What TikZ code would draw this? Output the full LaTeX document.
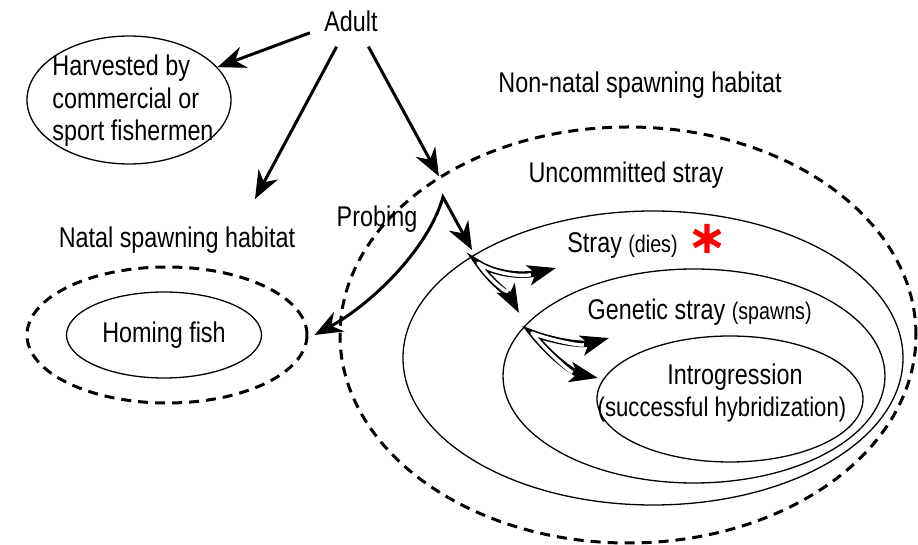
\documentclass[tikz,border=0pt]{standalone}
\usepackage{fontspec}
\setmainfont{Liberation Sans}[FakeStretch=0.82]
\usetikzlibrary{arrows.meta,shapes.geometric}

\newcommand\parenfont{\fontsize{12}{14}\selectfont}

\tikzset{
  lbl/.style={font=\fontsize{14.25}{16.25}\selectfont, inner sep=0pt},
  ring/.style={draw, ellipse, line width=0.65pt, inner sep=0pt},
  dashring/.style={draw, ellipse, line width=1.5pt, dash pattern=on 5pt off 3.5pt, inner sep=0pt},
  arr/.style={line width=1.5pt, >={Stealth[length=14pt,width=11pt,inset=4.5pt]}},
  oarr/.style={white, line width=1.7pt, line join=round, shorten <=13pt, shorten >=13pt,
    preaction={draw=black, line width=3.3pt, line join=miter, shorten <=0pt, shorten >=0pt,
      >={Stealth[length=14pt,width=10pt,inset=3.5pt]}, <->}},
}

\begin{document}
\begin{tikzpicture}[x=0.5pt,y=-0.5pt]
\useasboundingbox (0,0) rectangle (918,545);

% habitats
\node[dashring, minimum width=288pt, minimum height=208pt] (nonnatal) at (628,335) {};
\node[ring, minimum width=250pt, minimum height=147pt] (stray) at (653,358) {};
\node[ring, minimum width=191pt, minimum height=107pt] (genetic) at (694,376) {};
\node[ring, minimum width=133pt, minimum height=63pt] (introg) at (730,399) {};
\node[dashring, minimum width=140pt, minimum height=68pt] (natal) at (167,335) {};
\node[ring, lbl, minimum width=97.5pt, minimum height=43pt] (homing) at (164,335) {Homing fish};
\node[ring, minimum width=102pt, minimum height=64pt] (harv) at (129,100) {};

% labels
\node[lbl, inner sep=7pt, anchor=base] (adult) at (351,32) {Adult};
\node[lbl, align=left] (harvtxt) at (133,101) {Harvested by\\commercial or\\sport fishermen};
\node[lbl, anchor=base] (nonnatallbl) at (640,93) {Non-natal spawning habitat};
\node[lbl, anchor=base] (uncommitted) at (626,183) {Uncommitted stray};
\node[lbl, anchor=base] (natallbl) at (177,248) {Natal spawning habitat};
\node[lbl, anchor=base] (probing) at (377,227) {Probing};
\node[lbl, anchor=base west] (straylbl) at (567,253) {Stray {\parenfont (dies)}};
\node[lbl, anchor=base east] (geneticlbl) at (812,320) {Genetic stray {\parenfont (spawns)}};
\node[lbl, anchor=base] (introlbl) at (735,385) {Introgression};
\node[lbl, anchor=base] (hybridlbl) at (722,417) {\fontsize{13.5}{15}\selectfont (successful hybridization)};

% red star
\draw[red, line width=2.6pt] (707,224) -- (707,253) (694,231) -- (720,246) (694,246) -- (720,231);

\coordinate (natalin) at (255,199);
\coordinate (probe) at (443,197);
\coordinate (probeR) at (472,250);
\coordinate (strayfork) at (478,263);
\coordinate (strayA) at (556,268);
\coordinate (strayB) at (519,313);
\coordinate (genfork) at (532,333);
\coordinate (genC) at (609,338);
\coordinate (genD) at (598,378);

% arrows
\draw[arr,->] (adult.195) -- (harv);
\draw[arr,->] (adult.240) -- (natalin);
\draw[arr,->] (adult.305) -- (nonnatal.140);
\draw[arr,<->] ([xshift=3pt]natal.east) .. controls (370,305) and (428,250) .. (probe) -- (probeR);

\draw[oarr] (strayB) .. controls (510,296) and (490,281) .. (strayfork) .. controls (495,274) and (522,277) .. (strayA);
\draw[oarr] (genD) .. controls (570,372) and (545,350) .. (genfork) .. controls (550,340) and (580,346) .. (genC);
\end{tikzpicture}
\end{document}
